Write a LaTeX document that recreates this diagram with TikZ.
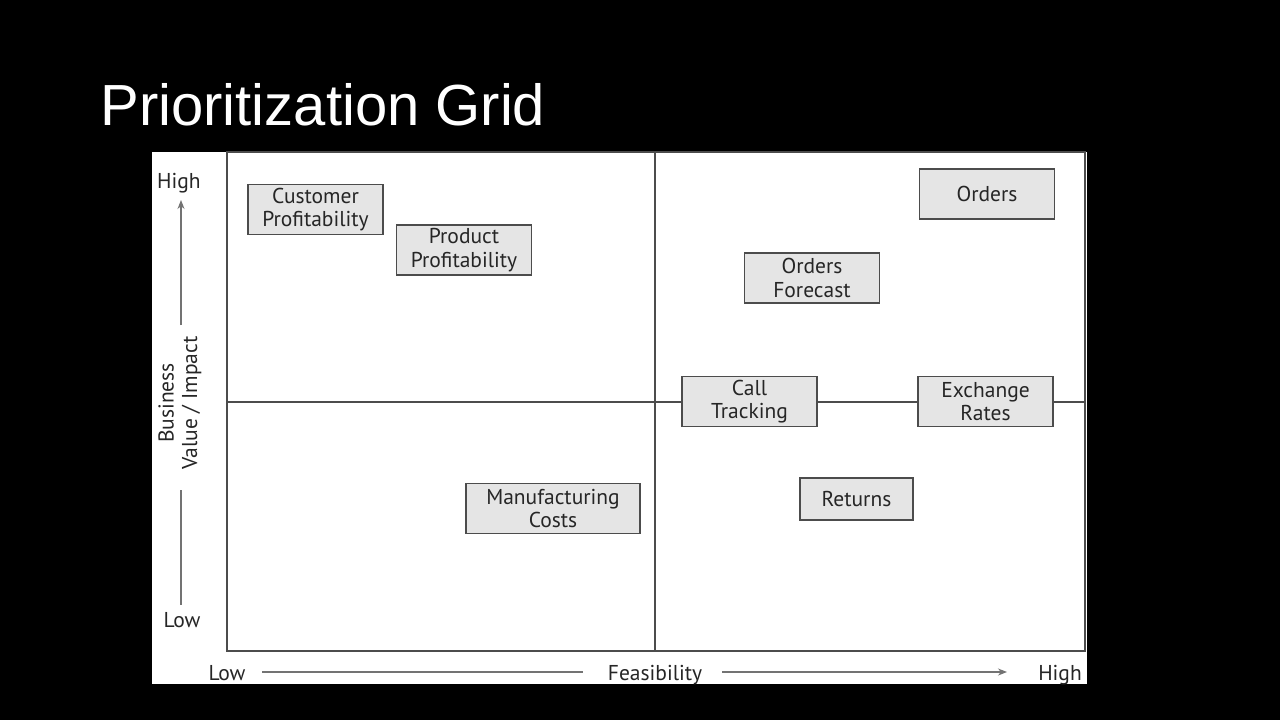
\documentclass[tikz,border=0pt]{standalone}
\usepackage{fontspec}
\setmainfont{PT Sans}
\newfontfamily\titlefont{Liberation Sans}
\usetikzlibrary{arrows.meta}

\begin{document}
\begin{tikzpicture}[x=1pt,y=-1pt,>={Stealth[length=9pt,width=7pt]},
                grid line/.style={draw=black!70,line width=1.3pt},
                axis line/.style={draw=black!55,line width=1.2pt},
                item box/.style={rectangle,draw=black!70,fill=black!10,line width=1.3pt,
                  minimum width=135pt,minimum height=50pt,align=center,
                  font=\fontsize{21.5}{23.5}\selectfont,text=black!85,inner sep=1pt},
                axis label/.style={font=\fontsize{21.5}{23.5}\selectfont,text=black!85}]

  % background and panel
  \fill[black] (0,0) rectangle (1280,720);
  \useasboundingbox (0,0) rectangle (1280,720);
  \fill[white] (152,152) rectangle (1087,684);

  \node[anchor=base west,text=white,font=\titlefont\fontsize{58}{60}\selectfont]
    (title) at (97,125) {Prioritization Grid};

  % grid frame and quadrants
  \draw[grid line] (227,152) rectangle (1085,651);
  \draw[grid line] (655,152) -- (655,651);
  \draw[grid line] (227,402) -- (1085,402);

  % items
  \node[item box] (custprof) at (315.5,209.5) {Customer\\Profitability};
  \node[item box] (prodprof) at (464,250) {Product\\Profitability};
  \node[item box] (orders) at (987,194) {Orders};
  \node[item box] (ordfcst) at (812,278) {Orders\\Forecast};
  \node[item box] (calltrk) at (749.5,401.5) {Call\\Tracking};
  \node[item box] (exrates) at (985.5,401.5) {Exchange\\Rates};
  \node[item box,minimum width=174pt] (mfgcost) at (553,508.5) {Manufacturing\\Costs};
  \node[item box,minimum width=113pt,minimum height=42pt] (returns) at (856.5,499) {Returns};

  % vertical axis
  \node[axis label] (yhigh) at (179,183) {High};
  \node[axis label,rotate=90,align=center] (yname) at (180,403) {Business\\Value / Impact};
  \node[axis label] (ylow) at (182,620) {Low};
  \coordinate (ytop) at (181,200);
  \coordinate (yup) at (181,325);
  \coordinate (ydown) at (181,490);
  \coordinate (ybot) at (181,605);
  \draw[axis line,->] (yup) -- (ytop);
  \draw[axis line] (ydown) -- (ybot);

  % horizontal axis
  \node[axis label,anchor=base] (xlow) at (227,680) {Low};
  \node[axis label,anchor=base] (xname) at (655,680) {Feasibility};
  \node[axis label,anchor=base] (xhigh) at (1060,680) {High};
  \coordinate (xa) at (262,672);
  \coordinate (xb) at (583,672);
  \coordinate (xc) at (722,672);
  \coordinate (xd) at (1007,672);
  \draw[axis line] (xa) -- (xb);
  \draw[axis line,->] (xc) -- (xd);
\end{tikzpicture}
\end{document}
